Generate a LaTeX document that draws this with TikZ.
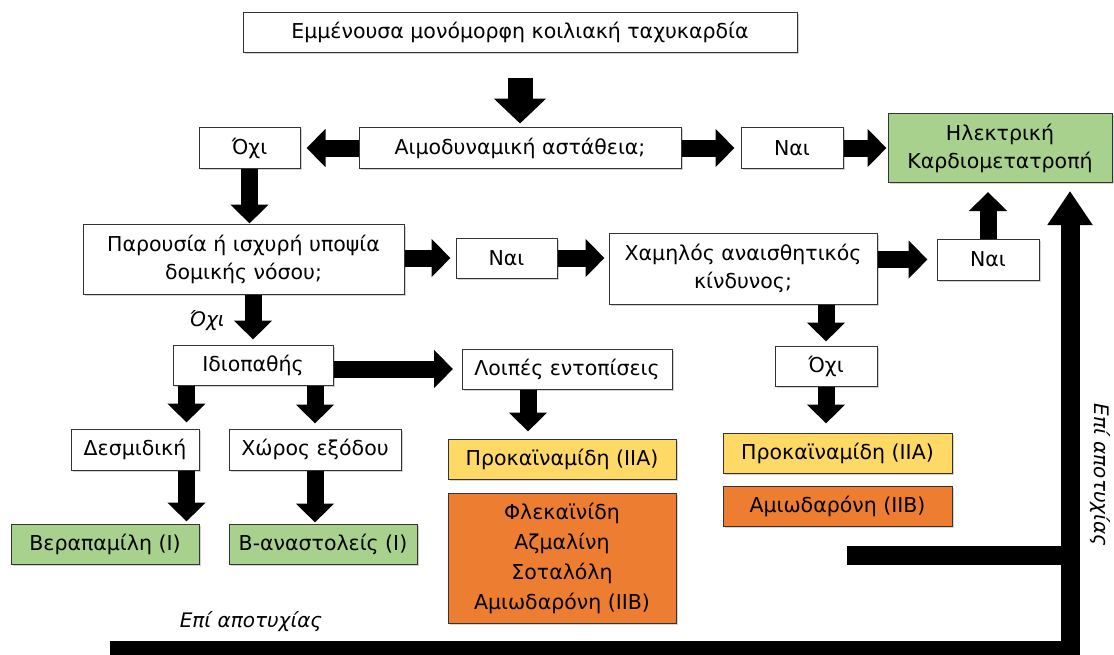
\documentclass[tikz,border=0pt]{standalone}
\usepackage{fontspec}
\setmainfont{DejaVu Sans}
\usetikzlibrary{arrows.meta,calc,positioning,shadows}
\definecolor{boxgreen}{HTML}{A9D18E}
\definecolor{boxyellow}{HTML}{FFD966}
\definecolor{boxorange}{HTML}{ED7D31}

\begin{document}
\begin{tikzpicture}[x=1pt,y=-1pt,
every node/.style={font=\fontsize{20.5}{28}\selectfont},
box/.style={draw=black!80,line width=1pt,fill=white,align=center,inner sep=0pt,
  drop shadow={shadow xshift=1.5pt,shadow yshift=-1.5pt,opacity=.35}},
arr/.style={line width=17pt,-{Triangle[length=19pt,width=37pt]}},
bigarr/.style={line width=25pt,-{Triangle[length=25pt,width=51pt]}},
failarr/.style={line width=19pt,-{Triangle[length=34pt,width=43pt]}},
note/.style={font=\fontsize{20}{24}\selectfont\itshape}]
\useasboundingbox (0,0) rectangle (1114,654);
\node[box,minimum width=554pt,minimum height=40pt] (VT) at (520,32) {Εμμένουσα μονόμορφη κοιλιακή ταχυκαρδία};
\node[box,minimum width=322pt,minimum height=41pt] (Hemo) at (520,148) {Αιμοδυναμική αστάθεια;};
\node[box,minimum width=101pt,minimum height=41pt] (No1) at (249.5,148) {Όχι};
\node[box,minimum width=102pt,minimum height=41pt] (Yes1) at (792,148) {Ναι};
\node[box,fill=boxgreen,minimum width=224pt,minimum height=69pt] (DCCV) at (1000,148) {Ηλεκτρική\\Καρδιομετατροπή};
\node[box,minimum width=321pt,minimum height=70pt] (Pres) at (243.5,259) {Παρουσία ή ισχυρή υποψία\\δομικής νόσου;};
\node[box,minimum width=101pt,minimum height=40pt] (Yes2) at (506.5,258) {Ναι};
\node[box,minimum width=268pt,minimum height=71pt] (Risk) at (743,268.5) {Χαμηλός αναισθητικός\\κίνδυνος;};
\node[box,minimum width=102pt,minimum height=41pt] (Yes3) at (988,259.5) {Ναι};
\node[note] (NoLbl) at (207,321) {Όχι};
\node[box,minimum width=160pt,minimum height=40pt] (Idio) at (253,365) {Ιδιοπαθής};
\node[box,minimum width=210pt,minimum height=40pt] (Other) at (567,369) {Λοιπές εντοπίσεις};
\node[box,minimum width=128pt,minimum height=41pt] (Fasc) at (135,449.5) {Δεσμιδική};
\node[box,minimum width=172pt,minimum height=41pt] (Outf) at (315,449.5) {Χώρος εξόδου};
\node[box,fill=boxgreen,minimum width=188pt,minimum height=40pt] (Vera) at (105,544) {Βεραπαμίλη (I)};
\node[box,fill=boxgreen,minimum width=188pt,minimum height=40pt] (Beta) at (323,544) {Β-αναστολείς (I)};
\node[box,fill=boxyellow,minimum width=228pt,minimum height=40pt] (Proc1) at (562,459) {Προκαϊναμίδη (IIA)};
\node[box,fill=boxorange,minimum width=228pt,minimum height=130pt,font=\fontsize{20.5}{30}\selectfont] (Mix) at (562,558) {Φλεκαϊνίδη\\Αζμαλίνη\\Σοταλόλη\\Αμιωδαρόνη (IIB)};
\node[box,minimum width=102pt,minimum height=40pt] (No3) at (826,366) {Όχι};
\node[box,fill=boxyellow,minimum width=229pt,minimum height=40pt] (Proc2) at (837.5,453) {Προκαϊναμίδη (IIA)};
\node[box,fill=boxorange,minimum width=229pt,minimum height=40pt] (Amio) at (837.5,506) {Αμιωδαρόνη (IIB)};
\node[note] (Fail1) at (251,622) {Επί αποτυχίας};
\node[note,rotate=-90] (Fail2) at (1100,475) {Επί αποτυχίας};
\coordinate (d1) at ($(Fasc.north east)+(-13,0)$);
\coordinate (o1) at ($(Other.south)+(-39,0)$);
\coordinate (f0) at (110,650);
\coordinate (f1) at (1070,650);
\coordinate (f2) at (847,555);
\draw[bigarr,shorten <=25pt,shorten >=3.5pt] (VT) -- (Hemo);
\draw[arr,shorten >=6pt] (Hemo) -- (No1);
\draw[arr,shorten >=6pt] (Hemo) -- (Yes1);
\draw[arr,shorten >=1pt] (Yes1) -- (DCCV);
\draw[arr] (No1.south) -- (No1.south |- Pres.north);
\draw[arr,shorten >=5pt] (Pres.east |- Yes2) -- (Yes2.west);
\draw[arr,shorten >=4pt] (Yes2.east) -- (Yes2.east -| Risk.west);
\draw[arr,shorten >=9pt] (Yes3.west -| Risk.east) -- (Yes3.west);
\draw[arr,shorten >=9pt] (Yes3.north) -- (Yes3.north |- DCCV.south);
\draw[arr,shorten >=5pt] (Pres.south -| Idio) -- (Idio.north);
\draw[arr,shorten >=8.5pt] (Other.west -| Idio.east) -- (Other.west);
\draw[arr,shorten >=6pt] (Idio.south -| d1) -- (d1);
\draw[arr,shorten >=5pt] (Idio.south -| Outf) -- (Outf.north);
\draw[arr,shorten >=2pt] (Fasc.south -| d1) -- (d1 |- Vera.north);
\draw[arr,shorten >=1pt] (Outf.south) -- (Outf.south |- Beta.north);
\draw[arr,shorten >=7pt] (o1) -- (o1 |- Proc1.north);
\draw[arr,shorten >=4pt] (Risk.south -| No3) -- (No3.north);
\draw[arr,shorten >=9pt] (No3.south) -- (No3.south |- Proc2.north);
\draw[line width=19pt] (f2) -- (f2 -| f1);
\draw[failarr,shorten >=8pt] (f0) -- (f1) -- (f1 |- DCCV.south);
\end{tikzpicture}
\end{document}
